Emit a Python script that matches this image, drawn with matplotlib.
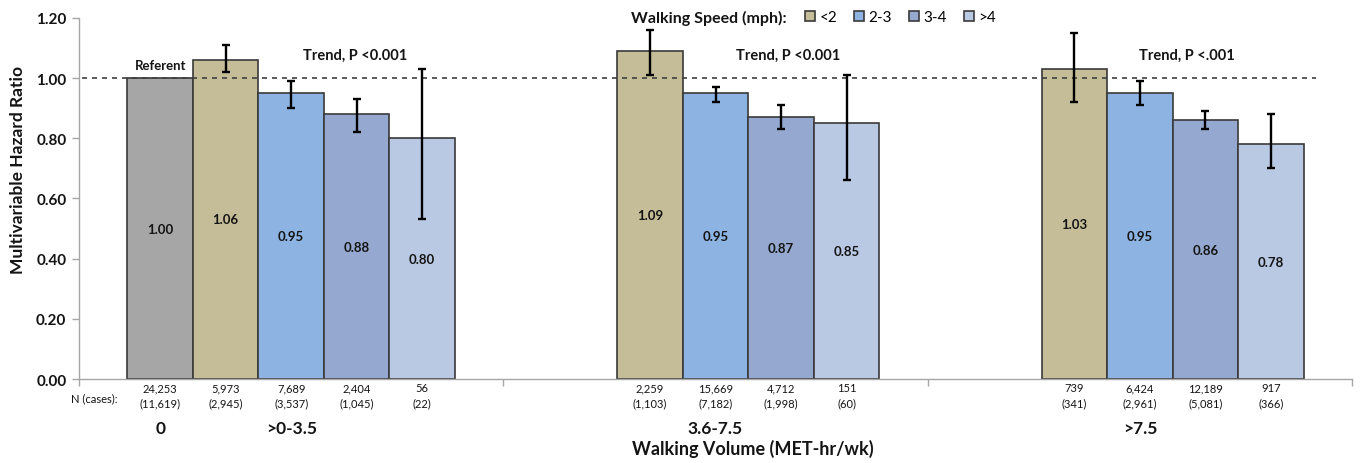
import matplotlib
matplotlib.use('Agg')
import matplotlib.pyplot as plt
import numpy as np

plt.rcParams['font.family'] = ['Lato', 'DejaVu Sans']

# ---------------- data ----------------
volume_categories = ['>0-3.5', '3.6-7.5', '>7.5']
speed_labels = ['<2', '2-3', '3-4', '>4']

referent_hr = 1.00
referent_n = '24,253'
referent_cases = '(11,619)'

hr_lt2 = [1.06, 1.09, 1.03]
hr_2_3 = [0.95, 0.95, 0.95]
hr_3_4 = [0.88, 0.87, 0.86]
hr_gt4 = [0.80, 0.85, 0.78]

ci_low_lt2 = [1.02, 1.01, 0.92]
ci_high_lt2 = [1.11, 1.16, 1.15]
ci_low_2_3 = [0.90, 0.92, 0.91]
ci_high_2_3 = [0.99, 0.97, 0.99]
ci_low_3_4 = [0.82, 0.83, 0.83]
ci_high_3_4 = [0.93, 0.91, 0.89]
ci_low_gt4 = [0.53, 0.66, 0.70]
ci_high_gt4 = [1.03, 1.01, 0.88]

n_lt2 = ['5,973', '2,259', '739']
n_2_3 = ['7,689', '15,669', '6,424']
n_3_4 = ['2,404', '4,712', '12,189']
n_gt4 = ['56', '151', '917']
cases_lt2 = ['(2,945)', '(1,103)', '(341)']
cases_2_3 = ['(3,537)', '(7,182)', '(2,961)']
cases_3_4 = ['(1,045)', '(1,998)', '(5,081)']
cases_gt4 = ['(22)', '(60)', '(366)']

trend_labels = ['Trend, P <0.001', 'Trend, P <0.001', 'Trend, P <.001']
trend_x = [0.15, 1.17, 2.11]
trend_y = 1.076

yticks = [0.0, 0.2, 0.4, 0.6, 0.8, 1.0, 1.2]

# ---------------- style ----------------
ref_color = '#A6A6A6'
colors = ['#C4BD97', '#8DB3E2', '#95A9D0', '#B9C9E3']
edge = '#3A3A3A'
spine_gray = '#A6A6A6'
txt = '#141414'

series_hr = [hr_lt2, hr_2_3, hr_3_4, hr_gt4]
series_lo = [ci_low_lt2, ci_low_2_3, ci_low_3_4, ci_low_gt4]
series_hi = [ci_high_lt2, ci_high_2_3, ci_high_3_4, ci_high_gt4]
series_n = [n_lt2, n_2_3, n_3_4, n_gt4]
series_c = [cases_lt2, cases_2_3, cases_3_4, cases_gt4]

fig = plt.figure(figsize=(13.6, 4.64), dpi=100)
ax = fig.add_axes([79 / 1360, 1 - 380 / 464, 1273 / 1360, (380 - 18.8) / 464])

x = np.arange(len(volume_categories))
w = 0.1544
PX = 0.72  # points per pixel

# referent bar
ref_x = x[0] - 2 * w
ax.bar([ref_x], [referent_hr], w, color=ref_color, edgecolor=edge, linewidth=1.2, zorder=2)
ax.text(ref_x, referent_hr / 2, f'{referent_hr:.2f}', ha='center', va='center',
        fontsize=9.5, fontweight='bold', color=txt, zorder=4)
ax.annotate('Referent', xy=(ref_x, referent_hr), xytext=(0, 13 * PX), textcoords='offset points',
            ha='center', va='center', fontsize=9.5, fontweight='bold', color=txt)

handles = []
for i in range(4):
    xs = x + (i - 1) * w
    vals = np.array(series_hr[i])
    lo = np.array(series_lo[i])
    hi = np.array(series_hi[i])
    b = ax.bar(xs, vals, w, color=colors[i], edgecolor=edge, linewidth=1.2, zorder=2,
               label=speed_labels[i])
    handles.append(b)
    ax.errorbar(xs, vals, yerr=[vals - lo, hi - vals], fmt='none', ecolor='black',
                elinewidth=1.7, capsize=2.6, capthick=1.7, zorder=4)
    for xi, v in zip(xs, vals):
        ax.text(xi, v / 2, f'{v:.2f}', ha='center', va='center', fontsize=9.5,
                fontweight='bold', color=txt, zorder=4)

# reference dashed line
ax.axhline(1.0, xmin=0.002, xmax=0.972, color='#404040', linestyle=(0, (3, 3)),
           linewidth=1.2, zorder=3)

# trend labels
for tx, tl in zip(trend_x, trend_labels):
    ax.text(tx, trend_y, tl, ha='center', va='center', fontsize=10.5, fontweight='bold',
            color=txt)

# axes styling
ax.set_xlim(-0.5, 2.5)
ax.set_ylim(0, 1.2)
ax.set_yticks(yticks)
ax.set_yticklabels([f'{t:.2f}' for t in yticks], fontsize=11, fontweight='bold')
ax.set_xticks([-0.5, 0.5, 1.5, 2.5])
ax.set_xticklabels([])
for s in ['top', 'right']:
    ax.spines[s].set_visible(False)
for s in ['left', 'bottom']:
    ax.spines[s].set_color(spine_gray)
    ax.spines[s].set_linewidth(1.0)
ax.tick_params(axis='both', direction='out', length=5, width=1.0, color=spine_gray)
ax.tick_params(axis='y', pad=4, labelcolor=txt)

ax.set_ylabel('Multivariable Hazard Ratio', fontsize=12.5, fontweight='bold', color=txt)
ax.yaxis.set_label_coords(-0.048, 0.581)
ax.yaxis.label.set_verticalalignment('center')

# N (cases) rows
def ntext(xpos, top, bottom):
    ax.annotate(top, xy=(xpos, 0), xycoords=('data', 'axes fraction'), xytext=(0, -9 * PX),
                textcoords='offset points', ha='center', va='center', fontsize=8,
                color=txt, annotation_clip=False)
    ax.annotate(bottom, xy=(xpos, 0), xycoords=('data', 'axes fraction'), xytext=(0, -24 * PX),
                textcoords='offset points', ha='center', va='center', fontsize=8,
                color=txt, annotation_clip=False)

ntext(ref_x, referent_n, referent_cases)
for i in range(4):
    for j, xi in enumerate(x + (i - 1) * w):
        ntext(xi, series_n[i][j], series_c[i][j])

ax.annotate('N (cases):', xy=(0.012, 0), xycoords='axes fraction', xytext=(0, -19 * PX),
            textcoords='offset points', ha='center', va='center', fontsize=8, color=txt,
            annotation_clip=False)

# category labels
ax.annotate('0', xy=(ref_x, 0), xycoords=('data', 'axes fraction'), xytext=(0, -49 * PX),
            textcoords='offset points', ha='center', va='center', fontsize=12.5, fontweight='bold',
            color=txt, annotation_clip=False)
for xi, lab in zip(x, volume_categories):
    ax.annotate(lab, xy=(xi, 0), xycoords=('data', 'axes fraction'), xytext=(0, -49 * PX),
                textcoords='offset points', ha='center', va='center', fontsize=12.5,
                fontweight='bold', color=txt, annotation_clip=False)
ax.annotate('Walking Volume (MET-hr/wk)', xy=(0.529, 0), xycoords='axes fraction',
            xytext=(0, -69 * PX), textcoords='offset points', ha='center', va='center',
            fontsize=13, fontweight='bold', color=txt, annotation_clip=False)

# legend
fig.text(631 / 1360, 1 - 18 / 464, 'Walking Speed (mph):', ha='left', va='center',
         fontsize=11.5, fontweight='bold', color=txt)
fig.legend(handles, speed_labels, loc='center left', bbox_to_anchor=(805 / 1360, 1 - 18 / 464),
           ncol=4, frameon=False, handlelength=0.65, handleheight=0.65, handletextpad=0.3,
           columnspacing=1.1, borderpad=0, borderaxespad=0, fontsize=11)

fig.savefig('out.png', dpi=100)
